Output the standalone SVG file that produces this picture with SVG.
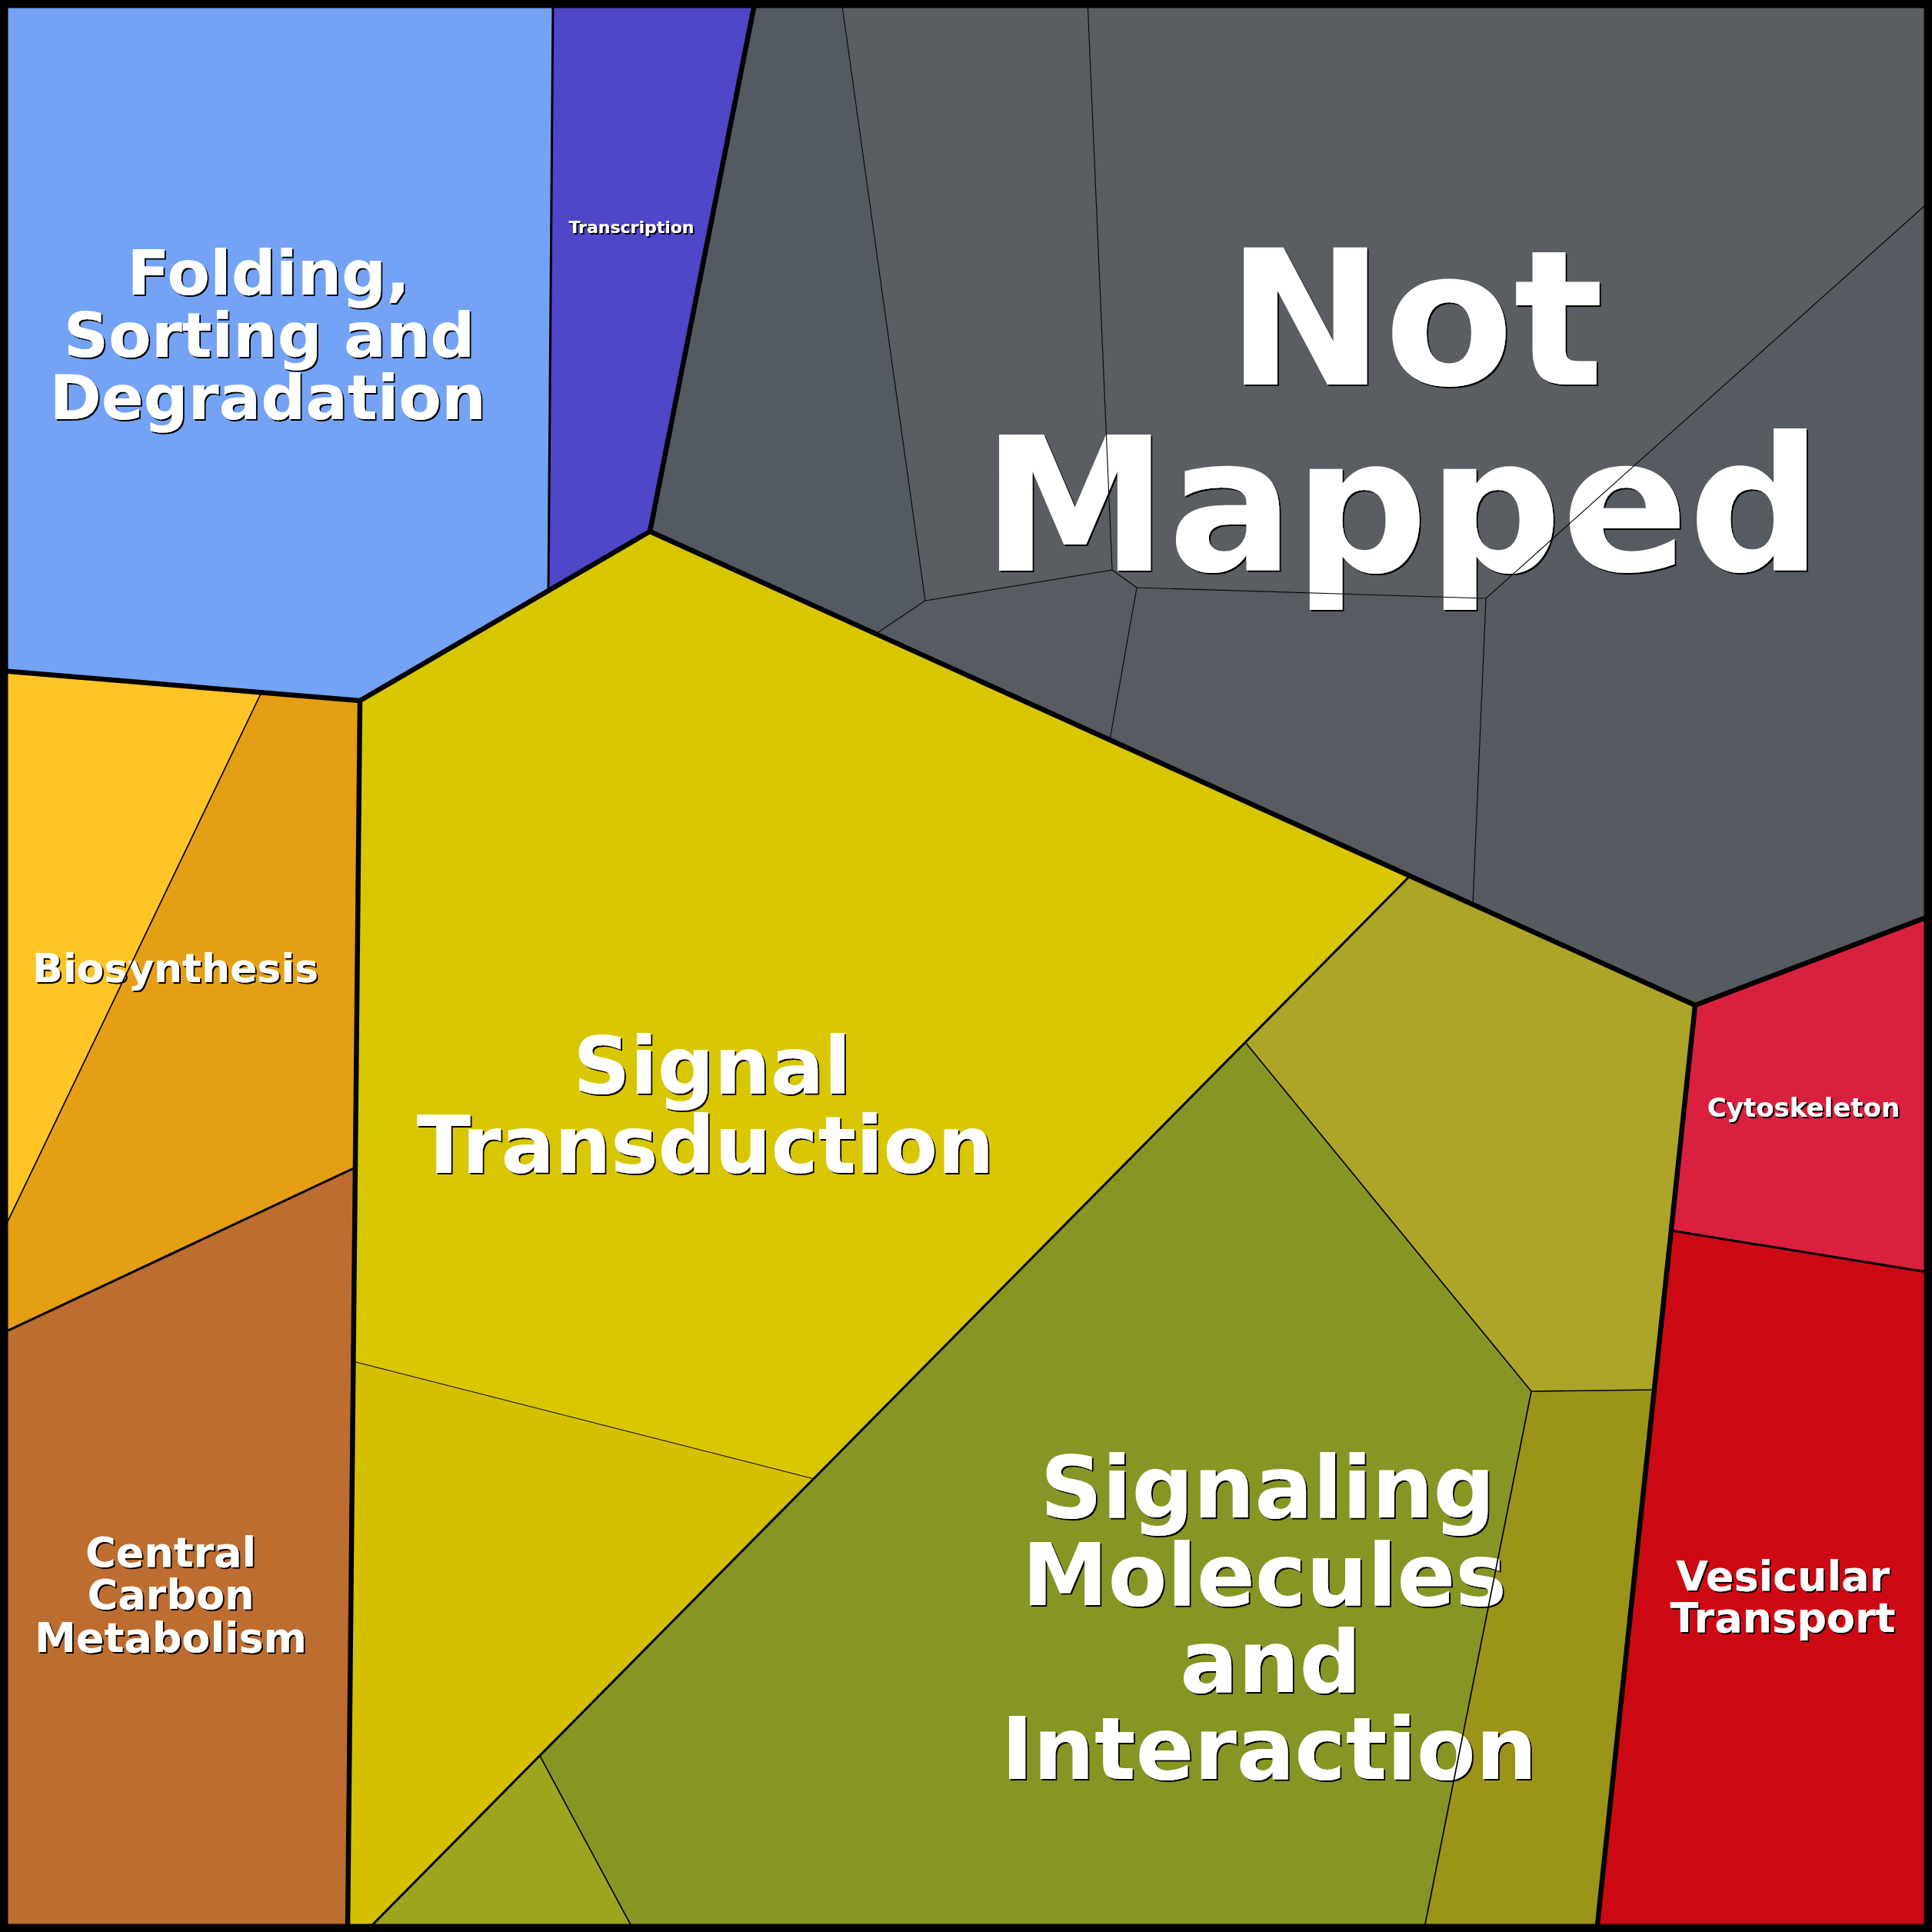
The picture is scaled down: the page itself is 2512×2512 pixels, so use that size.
<svg xmlns="http://www.w3.org/2000/svg" width="2512" height="2512" viewBox="0 0 2512 2512">
<defs>
<filter id="sh" x="-5%" y="-5%" width="110%" height="110%">
<feFlood flood-color="#000"/>
<feComposite in2="SourceAlpha" operator="in"/>
<feOffset dx="2" dy="2" result="s"/>
<feMerge><feMergeNode in="s"/><feMergeNode in="SourceGraphic"/></feMerge>
</filter>
</defs>
<style>
.c{stroke:none}
.lbl{font-family:"DejaVu Sans","Liberation Sans",sans-serif;font-weight:bold;fill:#fff;text-anchor:middle;filter:url(#sh)}
.b1{fill:none;stroke:#000;stroke-width:6.5;stroke-linejoin:round;stroke-linecap:round}
.b2{fill:none;stroke:#000;stroke-width:3;stroke-linecap:round}
.b3{fill:none;stroke:#000;stroke-width:1.7}
.b4{fill:none;stroke:#000;stroke-width:1.1}
</style>
<g id="cells">
<g id="folding">
<polygon class="c" fill="#74A3F5" points="0,0 719,0 713,767 468,911 0,872"/>
<text class="lbl" font-size="81" x="349" y="383">Folding,</text>
<text class="lbl" font-size="81" x="350" y="464">Sorting and</text>
<text class="lbl" font-size="81" x="348" y="545">Degradation</text>
</g>
<g id="transcription">
<polygon class="c" fill="#4F46C8" points="719,0 982,0 845,691 713,767"/>
<text class="lbl" font-size="22" x="821" y="303">Transcription</text>
</g>
<g id="not-mapped">
<polygon class="c" fill="#545A61" points="982,0 1094,0 1203,781 1139,824 845,691"/>
<polygon class="c" fill="#5A5E63" points="1094,0 1414,0 1446,741 1203,781"/>
<polygon class="c" fill="#5A5E63" points="1414,0 2512,0 2512,259 1932,778 1478,764 1446,741"/>
<polygon class="c" fill="#575C62" points="1139,824 1203,781 1446,741 1478,764 1443,962"/>
<polygon class="c" fill="#585C62" points="1478,764 1932,778 1915,1176 1443,962"/>
<polygon class="c" fill="#565B62" points="1932,778 2512,259 2512,1190 2204,1307 1915,1176"/>
<text class="lbl" font-size="245" x="1840" y="500">Not</text>
<text class="lbl" font-size="243" x="1823" y="742">Mapped</text>
</g>
<g id="biosynthesis">
<polygon class="c" fill="#FFC524" points="0,872 340,900 0,1609"/>
<polygon class="c" fill="#E59F14" points="340,900 468,911 462,1518 0,1735 0,1609"/>
<text class="lbl" font-size="52" x="228" y="1277">Biosynthesis</text>
</g>
<g id="central-carbon">
<polygon class="c" fill="#BD6D2F" points="0,1735 462,1518 452,2512 0,2512"/>
<text class="lbl" font-size="54" x="222" y="2037">Central</text>
<text class="lbl" font-size="54" x="222" y="2092">Carbon</text>
<text class="lbl" font-size="54" x="222" y="2148">Metabolism</text>
</g>
<g id="signal-transduction">
<polygon class="c" fill="#D8C700" points="468,911 845,691 1833,1139 1059,1923 459,1770"/>
<polygon class="c" fill="#D4BF00" points="459,1770 1059,1923 475,2512 452,2512"/>
<text class="lbl" font-size="103" x="926" y="1422">Signal</text>
<text class="lbl" font-size="103" x="917" y="1525">Transduction</text>
</g>
<g id="signaling-molecules">
<polygon class="c" fill="#879524" points="1619,1355 1991,1809 1851,2512 825,2512 702,2283"/>
<polygon class="c" fill="#ACA528" points="1833,1139 2204,1307 2151,1807 1991,1809 1619,1355"/>
<polygon class="c" fill="#9A9419" points="1991,1809 2151,1807 2076,2512 1851,2512"/>
<polygon class="c" fill="#9DA51F" points="702,2283 825,2512 475,2512"/>
<text class="lbl" font-size="112" x="1648" y="1973">Signaling</text>
<text class="lbl" font-size="112" x="1644" y="2087">Molecules</text>
<text class="lbl" font-size="112" x="1652" y="2200">and</text>
<text class="lbl" font-size="112" x="1650" y="2313">Interaction</text>
</g>
<g id="cytoskeleton">
<polygon class="c" fill="#D9213F" points="2204,1307 2512,1190 2512,1655 2173,1600"/>
<text class="lbl" font-size="34" x="2345" y="1452">Cytoskeleton</text>
</g>
<g id="vesicular-transport">
<polygon class="c" fill="#CD0914" points="2173,1600 2512,1655 2512,2512 2076,2512"/>
<text class="lbl" font-size="54" x="2318" y="2068">Vesicular</text>
<text class="lbl" font-size="54" x="2318" y="2122">Transport</text>
</g>
</g>
<g id="borders">
<path class="b4" d="M1094,0 L1203,781 L1139,824 M1203,781 L1446,741 L1414,0 M1446,741 L1478,764 L1443,962 M1478,764 L1932,778 L2512,259 M1932,778 L1915,1176 M459,1770 L1059,1923"/>
<path class="b3" d="M340,900 L0,1609 M1619,1355 L1991,1809 L2151,1807 M1991,1809 L1851,2512 M702,2283 L825,2512"/>
<path class="b2" d="M719,0 L713,767 M0,1735 L462,1518 M1833,1139 L475,2512 M2173,1600 L2512,1655"/>
<path class="b1" d="M982,0 L845,691 M0,872 L468,911 L845,691 L2204,1307 L2512,1190 M468,911 L452,2512 M2204,1307 L2076,2512"/>
<rect x="5" y="5" width="2502" height="2502" fill="none" stroke="#000" stroke-width="11"/>
</g>
</svg>
